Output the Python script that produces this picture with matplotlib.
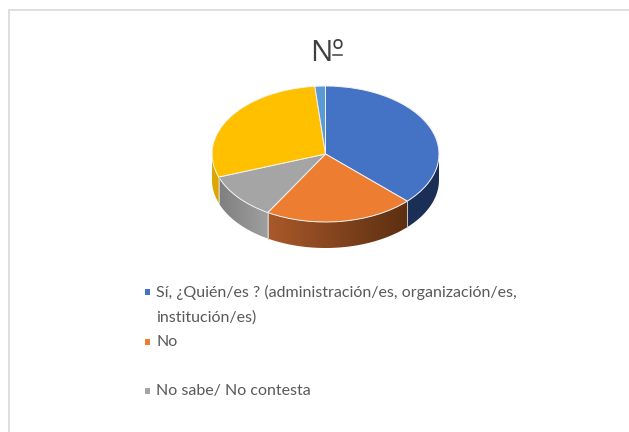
import matplotlib
matplotlib.use('Agg')
import matplotlib.pyplot as plt
from matplotlib.colors import to_rgb
import numpy as np
from matplotlib.patches import Polygon, Rectangle

plt.rcParams['font.family'] = ['Lato', 'DejaVu Sans']

# values, in percent
categories = ['Sí, ¿Quién/es ? (administración/es, organización/es,\ninstitución/es)',
              'No', 'No sabe/ No contesta', '', '']
values = [37.2, 21.3, 11.0, 29.0, 1.5]
top_colors = ['#4472C4', '#ED7D31', '#A5A5A5', '#FFC000', '#5B9BD5']
side_left = ['#1B2F56', '#A9592A', '#7F7F7F', '#DDA600', '#4A85B8']
side_right = ['#1B2F56', '#5C2F11', '#A0A0A0', '#DDA600', '#4A85B8']
legend_ys = [291.5, 341.5, 390.5]

W, H = 629, 432
fig = plt.figure(figsize=(W / 100, H / 100), dpi=100)

# overlay in pixel coordinates for frame, title and legend
bg = fig.add_axes([0, 0, 1, 1])
bg.set_xlim(0, W)
bg.set_ylim(H, 0)
bg.axis('off')
bg.plot([9, 9, W], [H, 10, 10], color='#D9D9D9', lw=1.2, solid_joinstyle='miter')
bg.text(327, 53.5, 'Nº', fontsize=21.5, color='#404040', ha='center', va='center',
        family='Open Sans')
bg.plot([332.5, 342], [55, 55], color='#404040', lw=1.1)   # bar under the ordinal

for i, y in enumerate(legend_ys):
    bg.add_patch(Rectangle((144.5, y - 3), 5.5, 6, fc=top_colors[i], ec='none'))
    bg.text(156, y - 7, categories[i], fontsize=11.5, color='#595959',
            va='top', linespacing=1.93)

# pie: ellipse spans 212..439 px wide, 86..222 px high, wall 26 px deep
cx, cy, rx, ry, depth = 325.5, 154, 113.5, 68, 26
ax = fig.add_axes([(cx - rx) / W, 1 - (cy + ry + depth) / H, 2 * rx / W, (2 * ry + depth) / H])
d = depth / ry

ends = 90 - np.cumsum(values) / sum(values) * 360
starts = np.r_[90, ends[:-1]]
for k in range(len(values)):
    t = np.radians(np.linspace(starts[k], ends[k], 80))
    t = t[np.sin(t) <= 0.02]    # only the front of the pie shows a wall
    if len(t) < 2:
        continue
    xs, ys = np.cos(t), np.sin(t)
    wall = Polygon(np.r_[np.c_[xs, ys], np.c_[xs[::-1], ys[::-1] - d]],
                   fc='none', ec='none', transform=ax.transData)
    ax.add_patch(wall)
    grad = np.linspace(to_rgb(side_left[k]), to_rgb(side_right[k]), 64)[np.newaxis]
    im = ax.imshow(grad, extent=(xs.min(), xs.max(), (ys - d).min(), ys.max()),
                   aspect='auto', interpolation='bilinear', origin='lower')
    im.set_clip_path(wall)
    # light seam at the end of each wall
    ax.plot([xs[0]] * 2, [ys[0], ys[0] - d], color='#C8C8C8', lw=0.7)

ax.pie(values, colors=top_colors, startangle=90, counterclock=False, radius=1,
       wedgeprops=dict(edgecolor='#F2F2F2', linewidth=0.7))
ax.set_aspect('auto')
ax.set_xlim(-1, 1)
ax.set_ylim(-1 - d, 1)
ax.axis('off')

fig.savefig('out.png', dpi=100)
